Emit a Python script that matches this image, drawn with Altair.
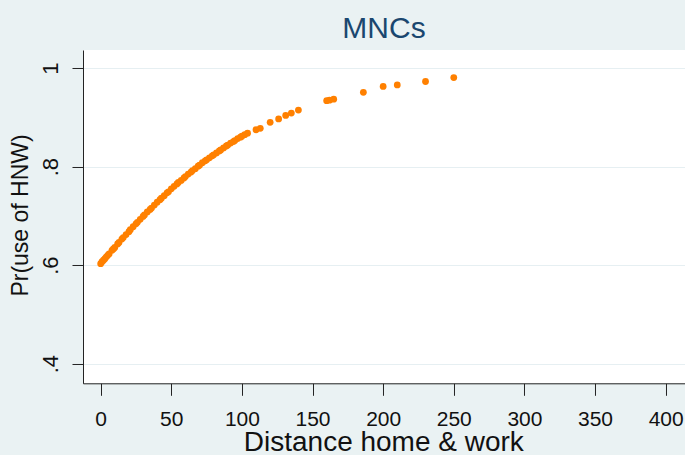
import altair as alt
import pandas as pd

# Distance home & work (x) and predicted Pr(use of HNW) (y)
distance = [0, 1, 2, 3, 4, 5, 6, 8, 9, 10, 12, 13, 15, 16, 18, 20, 21, 23, 25, 26,
            28, 30, 31, 33, 35, 36, 38, 40, 42, 43, 45, 47, 48, 50, 52, 54, 55, 57,
            59, 60, 62, 64, 65, 67, 69, 70, 72, 74, 75, 77, 79, 80, 82, 84, 85, 87,
            89, 90, 92, 94, 95, 97, 99, 100, 102, 104, 110, 113, 120, 126, 131, 135,
            140, 160, 162, 165, 186, 200, 210, 230, 250]
prob = [0.603, 0.607, 0.610, 0.613, 0.617, 0.620, 0.623, 0.630, 0.633, 0.636, 0.643,
        0.646, 0.653, 0.656, 0.662, 0.668, 0.672, 0.678, 0.684, 0.687, 0.693, 0.699,
        0.702, 0.708, 0.713, 0.716, 0.722, 0.728, 0.733, 0.736, 0.741, 0.747, 0.749,
        0.755, 0.760, 0.765, 0.768, 0.772, 0.777, 0.780, 0.785, 0.789, 0.792, 0.796,
        0.801, 0.803, 0.808, 0.812, 0.814, 0.818, 0.822, 0.824, 0.828, 0.832, 0.834,
        0.838, 0.842, 0.844, 0.848, 0.851, 0.853, 0.857, 0.860, 0.862, 0.865, 0.868,
        0.875, 0.878, 0.890, 0.897, 0.904, 0.909, 0.915, 0.934, 0.935, 0.937, 0.951,
        0.963, 0.966, 0.973, 0.981]

x_ticks = [0, 50, 100, 150, 200, 250, 300, 350, 400]
y_ticks = [0.4, 0.6, 0.8, 1.0]
y_tick_labels = [".4", ".6", ".8", "1"]

df = pd.DataFrame({"distance": distance, "prob": prob})

# label expression built from the tick lists
y_label_expr = "''"
for v, lab in zip(reversed(y_ticks), reversed(y_tick_labels)):
    y_label_expr = f"abs(datum.value - {v}) < 0.001 ? '{lab}' : ({y_label_expr})"

BG = "#EAF2F3"
TICK_FONT = "Liberation Sans, Arial"
TEXT_FONT = "Liberation Sans, Arial"

chart = (
    alt.Chart(df)
    .mark_circle(size=46, opacity=1, color="#FF8000")
    .encode(
        x=alt.X(
            "distance:Q",
            scale=alt.Scale(domain=[-12.5, 413.7], nice=False, zero=False),
            axis=alt.Axis(
                values=x_ticks,
                title="Distance home & work",
                grid=False,
                domainColor="#222222",
                tickColor="#222222",
                tickSize=12,
                labelPadding=30,
                labelBaseline="alphabetic",
                labelFont=TICK_FONT,
                labelFontSize=21,
                labelColor="#111111",
                labelFlush=False,
                labelOverlap=False,
                titleFont=TEXT_FONT,
                titleFontSize=28,
                titleFontWeight="normal",
                titleColor="#111111",
                titleX=300.3,
                titleY=67.5,
                titleAlign="center",
                titleBaseline="alphabetic",
            ),
        ),
        y=alt.Y(
            "prob:Q",
            scale=alt.Scale(domain=[0.36, 1.037], nice=False, zero=False),
            axis=alt.Axis(
                values=y_ticks,
                labelExpr=y_label_expr,
                title="Pr(use of HNW)",
                grid=True,
                gridColor="#E6EFF2",
                gridWidth=1,
                domainColor="#222222",
                tickColor="#222222",
                tickSize=11,
                labelPadding=15,
                labelAngle=270,
                labelAlign="center",
                labelBaseline="alphabetic",
                labelFont=TICK_FONT,
                labelFontSize=22,
                labelColor="#111111",
                labelFlush=False,
                labelOverlap=False,
                titleFont=TEXT_FONT,
                titleFontSize=23,
                titleFontWeight="normal",
                titleColor="#111111",
                titleAngle=270,
                titleX=-56,
                titleY=165,
                titleAlign="center",
                titleBaseline="alphabetic",
            ),
        ),
    )
    .properties(
        width=602,
        height=333.3,
        title=alt.Title(
            "MNCs",
            font=TEXT_FONT,
            fontSize=30,
            fontWeight="normal",
            color="#1A476F",
            anchor="middle",
            frame="group",
            baseline="alphabetic",
            offset=-18,
        ),
        background=BG,
        padding={"left": 83, "top": 50, "right": 0, "bottom": 72},
        autosize=alt.AutoSizeParams(type="none"),
    )
    .configure_view(fill="white", stroke=None)
)

chart.save("out.html", embed_options={"renderer": "svg", "actions": False})
